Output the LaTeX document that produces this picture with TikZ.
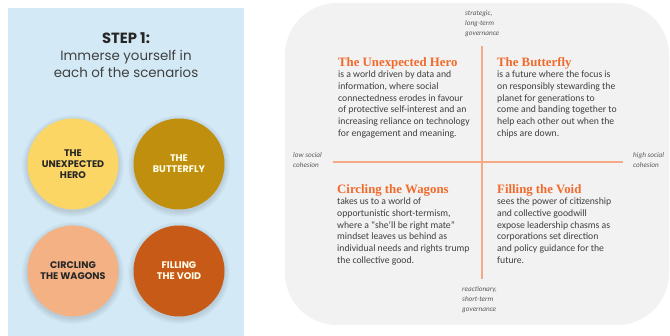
\documentclass[tikz,border=0pt]{standalone}
\usepackage{fontspec}
\setmainfont{Carlito}
\newfontfamily\popfont{Poppins}
\newfontfamily\headfont{Liberation Serif}
\usetikzlibrary{positioning}
\definecolor{panelblue}{HTML}{D3EAF6}
\definecolor{panelgrey}{HTML}{F2F2F2}
\definecolor{heroyellow}{HTML}{FCD664}
\definecolor{flygold}{HTML}{C18F0E}
\definecolor{wagonpeach}{HTML}{F4B284}
\definecolor{voidrust}{HTML}{C75A17}
\definecolor{axisline}{HTML}{F5A985}
\definecolor{headorange}{HTML}{F26A2B}
\definecolor{bodygrey}{HTML}{3F3F3F}

\begin{document}
\begin{tikzpicture}[x=1pt,y=-1pt,
  scenario/.style={circle,minimum size=91pt,inner sep=0pt,align=center,
    font=\popfont\bfseries\fontsize{9.6}{10.8}\selectfont},
  axislabel/.style={anchor=north west,inner sep=0pt,align=left,text=black!65,
    font=\itshape\fontsize{7.2}{10}\selectfont},
  quadhead/.style={anchor=north west,inner sep=0pt,text=headorange,
    font=\headfont\bfseries\fontsize{12.8}{13}\selectfont},
  quadbody/.style={anchor=north west,inner sep=0pt,align=left,text=bodygrey,
    font=\fontsize{9.7}{11.8}\selectfont}]
\useasboundingbox (0,0) rectangle (670,336);
\fill [white] (0,0) rectangle (670,336);

% left panel
\fill [panelblue] (8,8) rectangle (244,336);
\node (step) [font=\popfont\bfseries\fontsize{14.8}{16}\selectfont,text=black!85] at (126,38) {STEP 1:};
\node (immerse) [below=3pt of step,align=center,text=black!75,
  font=\popfont\fontsize{13.4}{17}\selectfont,inner sep=0pt] {Immerse yourself in\\each of the scenarios};

% soft shadows under the circles
\foreach \cx/\cy in {73/164,179/164,73/271,179/271}
  \foreach \r in {1,...,6}
    \fill [black,opacity=0.02] (\cx,\cy+2) circle (45pt+\r pt);

\node (hero) [scenario,fill=heroyellow,text=black!85] at (73,164) {THE\\UNEXPECTED\\HERO};
\node (fly) [scenario,fill=flygold,text=white!92!yellow] at (179,164) {THE\\BUTTERFLY};
\node (wagons) [scenario,fill=wagonpeach,text=black!85] at (73,271) {CIRCLING\\THE WAGONS};
\node (void) [scenario,fill=voidrust,text=white!92!yellow] at (179,271) {FILLING\\THE VOID};

% right panel
\fill [panelgrey,rounded corners=52pt] (285,3) rectangle (669,325);

\coordinate (top) at (482,46);
\coordinate (bot) at (482,279);
\coordinate (lft) at (333,162);
\coordinate (rgt) at (623,162);
\draw [axisline,line width=1.1pt] (top) -- (bot);
\draw [axisline,line width=1.1pt] (lft) -- (rgt);

\node (strat) [axislabel] at (465,10) {strategic,\\long-term\\governance};
\node (react) [axislabel] at (462,286) {reactionary,\\short-term\\governance};
\node (low) [axislabel] at (293,152) {low social\\cohesion};
\node (high) [axislabel] at (633,152) {high social\\cohesion};

\node (herohead) [quadhead] at (338,57.5) {The Unexpected Hero};
\node (herotext) [quadbody] at (338,70.5) {is a world driven by data and\\information, where social\\connectedness erodes in favour\\of protective self-interest and an\\increasing reliance on technology\\for engagement and meaning.};
\node (flyhead) [quadhead] at (497,57.5) {The Butterfly};
\node (flytext) [quadbody] at (497,70.5) {is a future where the focus is\\on responsibly stewarding the\\planet for generations to\\come and banding together to\\help each other out when the\\chips are down.};
\node (wagonshead) [quadhead] at (337,184.5) {Circling the Wagons};
\node (wagonstext) [quadbody] at (337,197.5) {takes us to a world of\\opportunistic short-termism,\\where a ``she'll be right mate''\\mindset leaves us behind as\\individual needs and rights trump\\the collective good.};
\node (voidhead) [quadhead] at (497,184.5) {Filling the Void};
\node (voidtext) [quadbody] at (497,197.5) {sees the power of citizenship\\and collective goodwill\\expose leadership chasms as\\corporations set direction\\and policy guidance for the\\future.};
\end{tikzpicture}
\end{document}
